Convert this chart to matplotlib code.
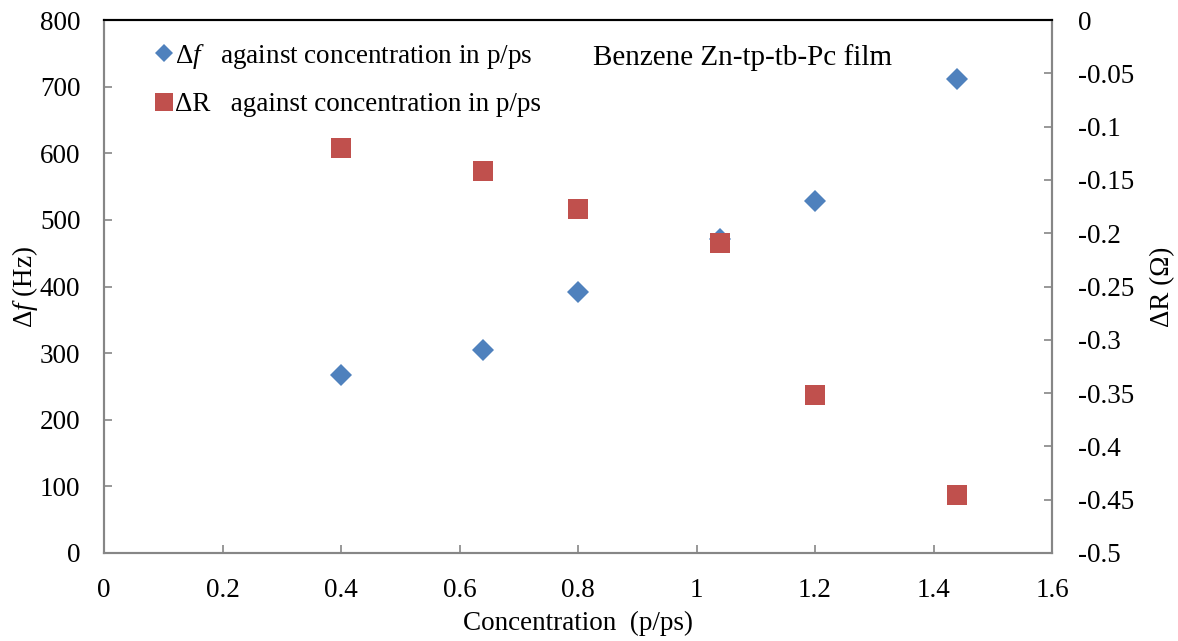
import matplotlib
matplotlib.use("Agg")
import matplotlib.pyplot as plt
from matplotlib.lines import Line2D

plt.rcParams['font.family'] = ['Liberation Serif', 'DejaVu Serif']
plt.rcParams['mathtext.fontset'] = 'custom'
plt.rcParams['mathtext.rm'] = 'Liberation Serif'
plt.rcParams['mathtext.it'] = 'Liberation Serif:italic'

concentration = [0.40, 0.64, 0.80, 1.04, 1.20, 1.44]
delta_f = [267, 304, 391, 471, 528, 711]
delta_R = [-0.120, -0.142, -0.177, -0.209, -0.352, -0.446]

x_ticks = [0, 0.2, 0.4, 0.6, 0.8, 1.0, 1.2, 1.4, 1.6]
x_tick_labels = ["0", "0.2", "0.4", "0.6", "0.8", "1", "1.2", "1.4", "1.6"]
left_ticks = [0, 100, 200, 300, 400, 500, 600, 700, 800]
right_ticks = [0, -0.05, -0.1, -0.15, -0.2, -0.25, -0.3, -0.35, -0.4, -0.45, -0.5]
right_tick_labels = ["0", "-0.05", "-0.1", "-0.15", "-0.2", "-0.25", "-0.3", "-0.35", "-0.4", "-0.45", "-0.5"]

blue = '#4F81BD'
red = '#C0504D'
gray = '#868686'
fs = 19.5

fig = plt.figure(figsize=(11.78, 6.41), dpi=100)
ax = fig.add_axes([104/1178, 1-553/641, (1052-104)/1178, (553-20)/641])
ax2 = ax.twinx()

ax.plot(concentration, delta_f, linestyle='none', marker='D', markersize=10.8,
        color=blue, markeredgewidth=0, zorder=3)
ax2.plot(concentration, delta_R, linestyle='none', marker='s', markersize=14.5,
         color=red, markeredgewidth=0, zorder=3)

ax.set_xlim(0, 1.6)
ax.set_ylim(0, 800)
ax2.set_ylim(-0.5, 0)
ax.set_xticks(x_ticks)
ax.set_xticklabels(x_tick_labels)
ax.set_yticks(left_ticks)
ax.set_yticklabels([str(v) for v in left_ticks])
ax2.set_yticks(right_ticks)
ax2.set_yticklabels(right_tick_labels)

for a in (ax, ax2):
    for s in ['left', 'right', 'bottom']:
        a.spines[s].set_color(gray)
        a.spines[s].set_linewidth(1.5)
    a.spines['top'].set_color('black')
    a.spines['top'].set_linewidth(1.5)
    a.tick_params(direction='in', length=6, width=1.2, color=gray, labelsize=fs, pad=11)
ax.tick_params(axis='x', pad=18)
ax.tick_params(axis='y', pad=17)
ax2.tick_params(axis='y', pad=19)

ax.set_xlabel("Concentration  (p/ps)", fontsize=fs, labelpad=6)
ax.set_ylabel(r"$\Delta\mathit{f}$ (Hz)", fontsize=fs, labelpad=0)
ax2.set_ylabel("ΔR (Ω)", fontsize=fs, labelpad=11)

ax.text(0.673, 0.929, "Benzene Zn-tp-tb-Pc film", transform=ax.transAxes,
        fontsize=21, ha='center', va='center')

handles = [
    Line2D([], [], linestyle='none', marker='D', markersize=9.5, color=blue, markeredgewidth=0),
    Line2D([], [], linestyle='none', marker='s', markersize=12.5, color=red, markeredgewidth=0),
]
labels = [r"$\Delta\mathit{f}$   against concentration in p/ps",
          "ΔR   against concentration in p/ps"]
ax.legend(handles, labels, loc='upper left', bbox_to_anchor=(0.035, 0.995),
          frameon=False, fontsize=fs, handlelength=0.6, handletextpad=0.1,
          labelspacing=0.8, borderaxespad=0.3)

fig.savefig("out.png", dpi=100)
